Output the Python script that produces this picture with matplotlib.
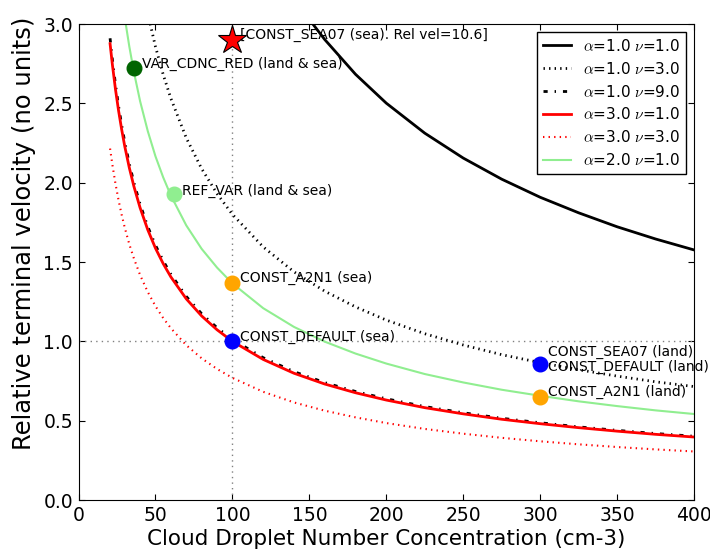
import matplotlib
matplotlib.use('Agg')
import matplotlib.pyplot as plt

# curve samples (cloud droplet number, relative velocity)
n_low = [20.5, 22, 24, 26, 28, 30, 33, 36, 40, 45, 50, 55, 60, 70, 80, 90, 100,
         120, 140, 160, 180, 200, 225, 250, 275, 300, 325, 350, 375, 400]
v_a3_n1 = [2.876, 2.744, 2.589, 2.455, 2.337, 2.231, 2.094, 1.976, 1.842, 1.703,
           1.587, 1.490, 1.406, 1.268, 1.160, 1.073, 1.000, 0.886, 0.799, 0.731,
           0.676, 0.630, 0.582, 0.543, 0.509, 0.481, 0.456, 0.434, 0.414, 0.397]
v_a1_n9 = [2.910, 2.777, 2.620, 2.484, 2.365, 2.258, 2.119, 2.000, 1.864, 1.723,
           1.606, 1.508, 1.423, 1.283, 1.174, 1.086, 1.012, 0.897, 0.809, 0.740,
           0.684, 0.638, 0.589, 0.550, 0.515, 0.487, 0.461, 0.439, 0.419, 0.402]
v_a3_n3 = [2.215, 2.113, 1.994, 1.890, 1.799, 1.718, 1.612, 1.522, 1.418, 1.311,
           1.222, 1.147, 1.083, 0.976, 0.893, 0.826, 0.770, 0.682, 0.615, 0.563,
           0.521, 0.485, 0.448, 0.418, 0.392, 0.370, 0.351, 0.334, 0.319, 0.306]

n_a2 = [30.6, 33, 36, 40, 45, 50, 55, 60, 70, 80, 90, 100, 120, 140, 160, 180,
        200, 225, 250, 275, 300, 325, 350, 375, 400]
v_a2_n1 = [3.006, 2.858, 2.697, 2.514, 2.325, 2.166, 2.034, 1.919, 1.731, 1.583,
           1.465, 1.365, 1.209, 1.091, 0.998, 0.923, 0.860, 0.794, 0.741, 0.695,
           0.657, 0.622, 0.592, 0.565, 0.542]

n_a1n3 = [46.6, 50, 55, 60, 70, 80, 90, 100, 120, 140, 160, 180, 200, 225, 250,
          275, 300, 325, 350, 375, 400]
v_a1_n3 = [3.000, 2.857, 2.682, 2.531, 2.282, 2.088, 1.931, 1.800, 1.595, 1.438,
           1.316, 1.217, 1.134, 1.048, 0.977, 0.916, 0.866, 0.821, 0.781, 0.745,
           0.715]

n_a1n1 = [152, 160, 180, 200, 225, 250, 275, 300, 325, 350, 375, 400]
v_a1_n1 = [3.003, 2.902, 2.683, 2.501, 2.312, 2.155, 2.022, 1.908, 1.810, 1.722,
           1.645, 1.576]

# configurations marked on the chart
pt_names = ['VAR_CDNC_RED (land & sea)', 'REF_VAR (land & sea)', 'CONST_A2N1 (sea)',
            'CONST_DEFAULT (sea)', 'CONST_A2N1 (land)']
pt_n = [36, 62, 100, 100, 300]
pt_v = [2.72, 1.93, 1.37, 1.00, 0.65]
pt_cols = ['darkgreen', 'lightgreen', 'orange', 'blue', 'orange']
lab_v = [2.75, 1.95, 1.40, 1.03, 0.68]

land_n, land_v = 300, 0.857
land_labels = ['CONST_SEA07 (land)', 'CONST_DEFAULT (land)']
land_lab_v = [0.933, 0.838]

star_n, star_v = 100, 2.90
star_label = '[CONST_SEA07 (sea). Rel vel=10.6]'

plt.rcParams['mathtext.fontset'] = 'cm'
plt.rcParams['lines.scale_dashes'] = False
plt.rcParams['xtick.direction'] = 'in'
plt.rcParams['ytick.direction'] = 'in'
plt.rcParams['xtick.top'] = True
plt.rcParams['ytick.right'] = True
plt.rcParams['xtick.major.size'] = 4.5
plt.rcParams['ytick.major.size'] = 4.5

fig = plt.figure(figsize=(7.1, 5.53), dpi=100)
ax = fig.add_axes([0.1106, 0.0958, 0.867, 0.8608])

ax.axvline(100, color='grey', linestyle=(0, (1, 3)), lw=1)
ax.axhline(1.0, color='grey', linestyle=(0, (1, 3)), lw=1)

ax.plot(n_a1n1, v_a1_n1, color='black', lw=2, label=r'$\alpha$=1.0 $\nu$=1.0')
ax.plot(n_a1n3, v_a1_n3, color='black', lw=2, linestyle=(0, (1, 3)),
        label=r'$\alpha$=1.0 $\nu$=3.0')
ax.plot(n_low, v_a1_n9, color='black', lw=2, linestyle=(0, (3, 5, 1, 5)),
        label=r'$\alpha$=1.0 $\nu$=9.0')
ax.plot(n_low, v_a3_n1, color='red', lw=2, label=r'$\alpha$=3.0 $\nu$=1.0')
ax.plot(n_low, v_a3_n3, color='red', lw=1.5, linestyle=(0, (1, 3)),
        label=r'$\alpha$=3.0 $\nu$=3.0')
ax.plot(n_a2, v_a2_n1, color='lightgreen', lw=1.5, label=r'$\alpha$=2.0 $\nu$=1.0')

for n, v, c, name, lv in zip(pt_n, pt_v, pt_cols, pt_names, lab_v):
    ax.plot(n, v, 'o', color=c, mec=c, ms=10.5, zorder=5)
    ax.text(n + 5, lv, name, fontsize=10, va='center', ha='left')

ax.plot(land_n, land_v, 'o', color='blue', mec='blue', ms=10.5, zorder=5)
for name, lv in zip(land_labels, land_lab_v):
    ax.text(land_n + 5, lv, name, fontsize=10, va='center', ha='left', clip_on=False)

ax.plot(star_n, star_v, '*', color='red', mec='black', mew=0.8, ms=21, zorder=6)
ax.text(star_n + 5, star_v + 0.03, star_label, fontsize=10, va='center', ha='left')

ax.set_xlim(0, 400)
ax.set_ylim(0, 3.0)
ax.set_xticks(range(0, 401, 50))
ax.set_yticks([0.0, 0.5, 1.0, 1.5, 2.0, 2.5, 3.0])
ax.set_yticklabels(['0.0', '0.5', '1.0', '1.5', '2.0', '2.5', '3.0'])
ax.tick_params(labelsize=13.5, pad=4)

ax.set_xlabel('Cloud Droplet Number Concentration (cm-3)', fontsize=15.5, labelpad=3)
ax.set_ylabel('Relative terminal velocity (no units)', fontsize=17.5)
ax.yaxis.set_label_coords(-0.069, 0.56)

leg = ax.legend(loc='upper right', fontsize=11, fancybox=False, framealpha=1,
                edgecolor='black', handlelength=1.8, handletextpad=0.8,
                borderaxespad=0.5, labelspacing=0.45)
leg.get_frame().set_linewidth(1.0)

fig.savefig('out.png', dpi=100)
